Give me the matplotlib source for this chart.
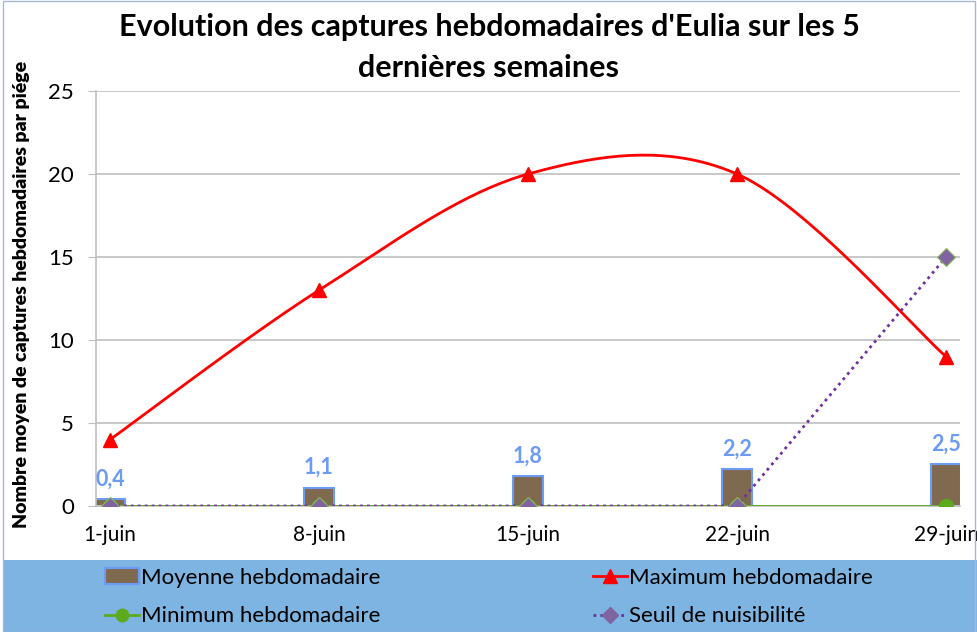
import numpy as np
import matplotlib
matplotlib.use("Agg")
import matplotlib.pyplot as plt
from matplotlib.patches import Rectangle, Patch
from matplotlib.lines import Line2D

plt.rcParams['font.family'] = ['Lato', 'DejaVu Sans']

# Data
semaines = ['1-juin', '8-juin', '15-juin', '22-juin', '29-juin']
moyenne = [0.4, 1.1, 1.8, 2.2, 2.5]
maximum = [4, 13, 20, 20, 9]
minimum = [0, 0, 0, 0, 0]
seuil = [0, 0, 0, 0, 15]

x = np.arange(len(semaines))


def smooth_curve(xs, ys, n=40):
    # Excel-like smoothed line (Catmull-Rom style Bezier segments)
    pts = np.column_stack([xs, ys]).astype(float)
    ext = np.vstack([pts[0], pts, pts[-1]])
    out = []
    t = np.linspace(0, 1, n)[:, None]
    for i in range(len(pts) - 1):
        p0, p1, p2, p3 = ext[i], ext[i + 1], ext[i + 2], ext[i + 3]
        c1 = p1 + (p2 - p0) / 6
        c2 = p2 - (p3 - p1) / 6
        seg = ((1 - t) ** 3) * p1 + 3 * ((1 - t) ** 2) * t * c1 + 3 * (1 - t) * t ** 2 * c2 + t ** 3 * p2
        out.append(seg if i == 0 else seg[1:])
    seg = np.vstack(out)
    return seg[:, 0], seg[:, 1]


fig = plt.figure(figsize=(9.78, 6.32), dpi=100)
ax = fig.add_axes([0.0982, 0.1994, 0.8834, 0.6566])

brown = '#7F6A50'
edge_blue = '#6C9BF5'
red = '#FF0000'
green = '#5DAA1E'
purple_line = '#7030A0'
purple_mark = '#8064A2'

ax.bar(x, moyenne, width=0.14, color=brown, edgecolor=edge_blue, linewidth=1.5, zorder=2)
for xi, v in zip(x, moyenne):
    ax.annotate(f"{v:.1f}".replace('.', ','), (xi, v), xytext=(0, 7), textcoords='offset points',
                ha='center', va='bottom', color='#6C9BF5', fontsize=15.5, fontweight='bold', zorder=5)

sx, sy = smooth_curve(x, maximum)
ax.plot(sx, sy, color=red, linewidth=2, zorder=3)
ax.plot(x, maximum, linestyle='none', marker='^', markersize=10, color=red, zorder=3)

ax.plot(x, minimum, color=green, linewidth=2, marker='o', markersize=10, zorder=4)
ax.plot(x, seuil, color=purple_line, linewidth=2, linestyle=(0, (1, 1.5)), zorder=5)
ax.plot(x, seuil, linestyle='none', marker='D', markersize=9.5, color=purple_mark,
        markeredgecolor='#8BB85A', markeredgewidth=0.8, zorder=5)

ax.set_xlim(-0.067, 4.067)
ax.set_ylim(0, 25)
ax.set_yticks(range(0, 26, 5))
ax.set_xticks(x)
ax.set_xticklabels(semaines)
ax.tick_params(axis='y', length=6, color='#BFBFBF', labelsize=16, pad=10)
ax.tick_params(axis='x', length=0, labelsize=15, pad=14)
ax.grid(axis='y', color='#BFBFBF', linewidth=1.2, zorder=0)
ax.set_axisbelow(True)
for s in ['top', 'right']:
    ax.spines[s].set_visible(False)
ax.spines['left'].set_color('#BFBFBF')
ax.spines['bottom'].set_color('#BFBFBF')
ax.spines['left'].set_linewidth(1.2)
ax.spines['bottom'].set_linewidth(1.2)

ax.set_ylabel("Nombre moyen de captures hebdomadaires par piége", fontsize=14, fontweight='heavy')
ax.yaxis.set_label_coords(-0.077, 0.51)

fig.text(0.5, 0.957, "Evolution des captures hebdomadaires d'Eulia sur les 5", ha='center', va='center',
         fontsize=22, fontweight='bold')
fig.text(0.5, 0.893, "dernières semaines", ha='center', va='center', fontsize=22, fontweight='bold')

# blue band for legend
fig.patches.append(Rectangle((0.004, 0), 0.996, 0.114, transform=fig.transFigure,
                             facecolor='#7DB4E2', edgecolor='none', zorder=0))
fig.patches.append(Rectangle((0.003, 0.0), 0.994, 0.998, transform=fig.transFigure,
                             facecolor='none', edgecolor='#A6B8D8', linewidth=1, zorder=1))

handles = [
    Patch(facecolor=brown, edgecolor=edge_blue, linewidth=1.5, label='Moyenne hebdomadaire'),
    Line2D([], [], color=green, linewidth=2, marker='o', markersize=9, label='Minimum hebdomadaire'),
    Line2D([], [], color=red, linewidth=2, marker='^', markersize=10, label='Maximum hebdomadaire'),
    Line2D([], [], color=purple_line, linewidth=2, linestyle=(0, (1, 1.5)), marker='D', markersize=8,
           markerfacecolor=purple_mark, markeredgecolor=purple_mark, label='Seuil de nuisibilité'),
]
fig.legend(handles=handles, ncol=2, loc='center', bbox_to_anchor=(0.5, 0.0554), frameon=False,
           fontsize=16, handlelength=1.5, handletextpad=0.1, columnspacing=9.6, labelspacing=0.85)

fig.savefig('out.png', dpi=100)
